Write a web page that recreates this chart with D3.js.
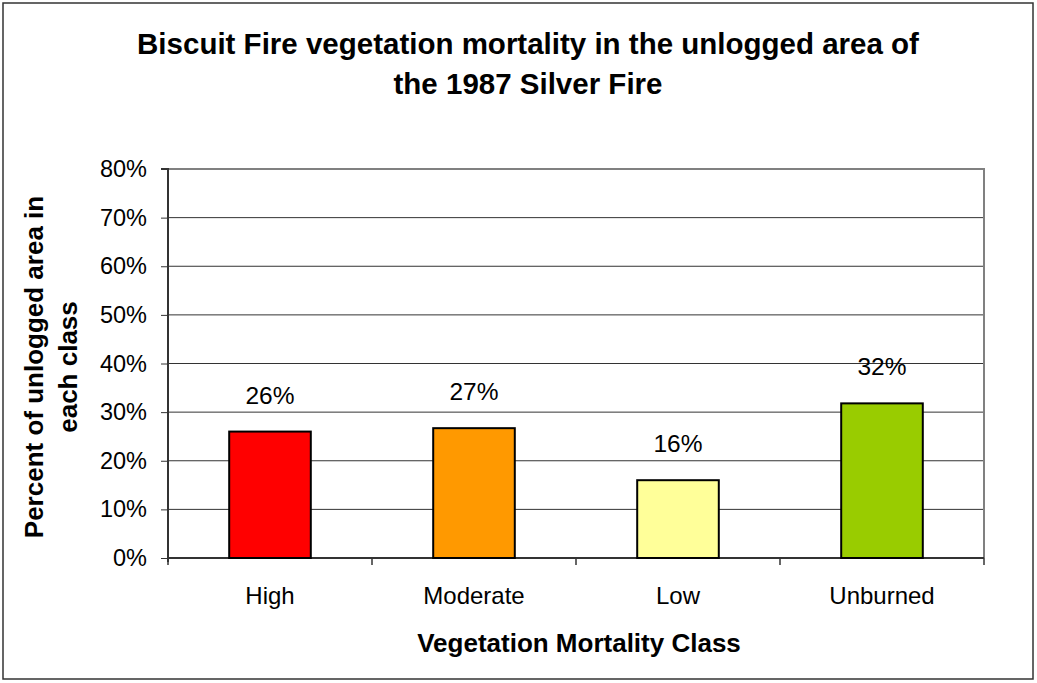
<!DOCTYPE html>
<html><head><meta charset="utf-8">
<script src="https://cdn.jsdelivr.net/npm/d3@7"></script>
<style>body{margin:0;background:#fff;} text{font-family:"Liberation Sans",Arial,sans-serif;}</style>
</head><body><svg id="c" width="1037" height="683"></svg>
<script>
const categories = ["High", "Moderate", "Low", "Unburned"];
const values = [0.26, 0.267, 0.16, 0.318];
const labels = ["26%", "27%", "16%", "32%"];
const colors = ["#ff0000", "#ff9900", "#ffff99", "#99cc00"];
const yTicks = [0, 0.1, 0.2, 0.3, 0.4, 0.5, 0.6, 0.7, 0.8];
const titleLines = ["Biscuit Fire vegetation mortality in the unlogged area of", "the 1987 Silver Fire"];
const yTitleLines = ["Percent of unlogged area in", "each class"];
const xTitle = "Vegetation Mortality Class";

const svg = d3.select("#c");
svg.append("rect").attr("x", 3).attr("y", 3).attr("width", 1030).attr("height", 676)
  .attr("fill", "#fff").attr("stroke", "#333").attr("stroke-width", 1.5);

const L = 168, R = 984, T = 169, B = 558;
const x = d3.scaleBand().domain(categories).range([L, R]).paddingInner(0.6).paddingOuter(0.3);
const y = d3.scaleLinear().domain([0, 0.8]).range([B, T]);

// gridlines
svg.append("g").selectAll("line").data(yTicks.filter(d => d > 0)).join("line")
  .attr("x1", L).attr("x2", R).attr("y1", d => y(d)).attr("y2", d => y(d))
  .attr("stroke", "#333").attr("stroke-width", 1);
// plot border top/right
svg.append("path").attr("d", `M${L},${T}H${R}V${B}`).attr("fill", "none").attr("stroke", "#808080").attr("stroke-width", 2);

// y axis
const yAxis = d3.axisLeft(y).tickValues(yTicks).tickFormat(d3.format(".0%")).tickSize(7).tickPadding(14);
const gy = svg.append("g").attr("transform", `translate(${L},0)`).call(yAxis);
gy.select(".domain").attr("stroke", "#333").attr("stroke-width", 2).attr("d", `M-7,${T}H0V${B + 4}`);
gy.selectAll(".tick line").attr("stroke", "#333");
gy.selectAll(".tick text").attr("font-size", 23.5).attr("fill", "#000").attr("font-family", "Liberation Sans, Arial, sans-serif");

// x axis
const xAxis = d3.axisBottom(x).tickSize(0).tickPadding(29);
const gx = svg.append("g").attr("transform", `translate(0,${B})`).call(xAxis);
gx.select(".domain").remove();
gx.selectAll(".tick text").attr("font-size", 24).attr("fill", "#000").attr("font-family", "Liberation Sans, Arial, sans-serif");
// category boundary ticks
const bounds = d3.range(categories.length + 1).map(i => L + i * (R - L) / categories.length);
svg.append("g").selectAll("line").data(bounds).join("line")
  .attr("x1", d => d).attr("x2", d => d).attr("y1", B).attr("y2", B + 7)
  .attr("stroke", "#333").attr("stroke-width", 1.5);
svg.append("line").attr("x1", L).attr("x2", R).attr("y1", B).attr("y2", B).attr("stroke", "#333").attr("stroke-width", 2);

// bars
const data = categories.map((c, i) => ({c, v: values[i], l: labels[i], col: colors[i]}));
svg.append("g").selectAll("rect").data(data).join("rect")
  .attr("x", d => x(d.c)).attr("width", x.bandwidth())
  .attr("y", d => y(d.v)).attr("height", d => y(0) - y(d.v))
  .attr("fill", d => d.col).attr("stroke", "#000").attr("stroke-width", 2);
svg.append("g").selectAll("text").data(data).join("text")
  .attr("x", d => x(d.c) + x.bandwidth() / 2).attr("y", d => y(d.v) - 28)
  .attr("text-anchor", "middle").attr("font-size", 24.5).text(d => d.l);

// titles
svg.append("g").selectAll("text").data(titleLines).join("text")
  .attr("x", 528).attr("y", (d, i) => 54 + i * 40).attr("text-anchor", "middle")
  .attr("font-size", 29.5).attr("font-weight", "bold").text(d => d);
svg.append("text").attr("x", 579).attr("y", 652).attr("text-anchor", "middle")
  .attr("font-size", 26).attr("font-weight", "bold").text(xTitle);
svg.append("g").selectAll("text").data(yTitleLines).join("text")
  .attr("transform", (d, i) => `translate(${43 + i * 34},367) rotate(-90)`)
  .attr("text-anchor", "middle").attr("font-size", 26).attr("font-weight", "bold").text(d => d);
</script></body></html>
